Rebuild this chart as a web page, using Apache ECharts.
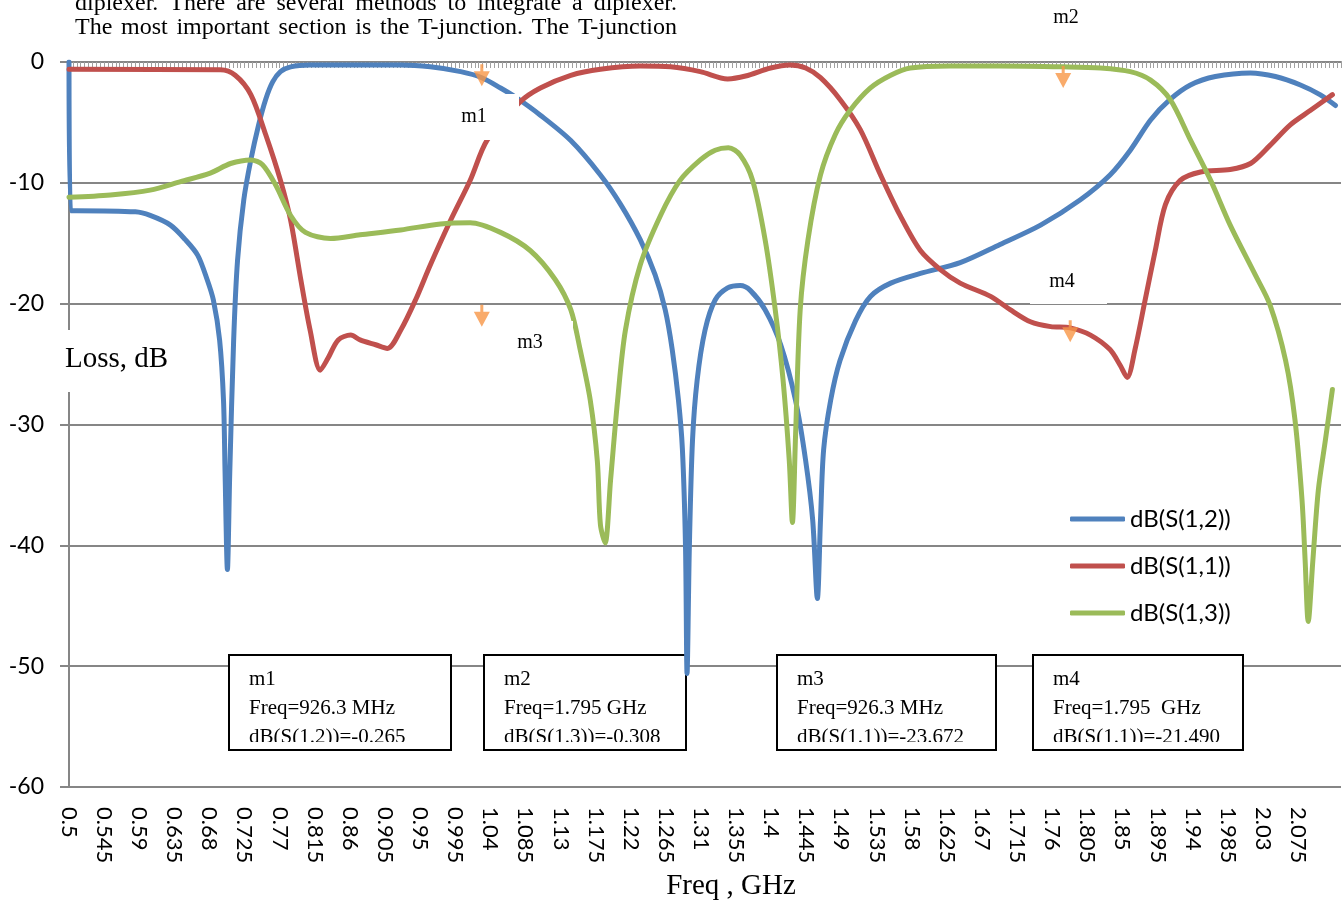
<!DOCTYPE html>
<html>
<head>
<meta charset="utf-8">
<script src="https://cdn.jsdelivr.net/npm/echarts@6/dist/echarts.min.js"></script>
<style>
html,body{margin:0;padding:0;background:#fff;}
#chart{width:1342px;height:902px;}
</style>
</head>
<body>
<div id="chart"></div>
<script>
// ---- data (frequency in GHz, loss in dB) ----
const seriesNames = ['dB(S(1,2))', 'dB(S(1,1))', 'dB(S(1,3))'];

const freqS12 = [0.5, 0.502, 0.51, 0.585, 0.604, 0.630, 0.649, 0.665, 0.677, 0.685, 0.693, 0.698, 0.700, 0.703, 0.706, 0.711, 0.716, 0.724, 0.733, 0.743, 0.752, 0.761, 0.771, 0.784, 0.809, 0.861, 0.925, 0.963, 1.002, 1.029, 1.053, 1.072, 1.104, 1.143, 1.181, 1.207, 1.232, 1.251, 1.264, 1.273, 1.281, 1.286, 1.290, 1.292, 1.295, 1.299, 1.305, 1.315, 1.328, 1.344, 1.360, 1.373, 1.392, 1.412, 1.431, 1.444, 1.453, 1.459, 1.463, 1.467, 1.476, 1.488, 1.508, 1.527, 1.553, 1.591, 1.642, 1.693, 1.745, 1.796, 1.834, 1.860, 1.886, 1.911, 1.937, 1.969, 2.014, 2.046, 2.078, 2.103, 2.123];
const dbS12 = [0, -12.3, -12.3, -12.4, -12.7, -13.5, -14.7, -16, -18, -19.7, -23, -28, -34, -42, -34, -23, -16.4, -11.4, -8.1, -5.2, -3.1, -1.65, -0.8, -0.4, -0.25, -0.25, -0.25, -0.4, -0.8, -1.3, -2.15, -2.9, -4.4, -6.5, -9.35, -11.8, -14.7, -17.6, -20.5, -23.8, -28, -32, -40, -50.6, -40, -31.3, -26.3, -22.2, -19.7, -18.7, -18.5, -18.9, -20.5, -23.4, -28, -33, -37.9, -44.4, -37.9, -32.1, -28, -24.7, -21.4, -19.4, -18.3, -17.5, -16.6, -15.1, -13.5, -11.4, -9.35, -7.3, -4.8, -3.1, -1.9, -1.2, -0.9, -1.2, -1.9, -2.7, -3.6];

const freqS11 = [0.5, 0.694, 0.713, 0.733, 0.752, 0.771, 0.784, 0.797, 0.809, 0.822, 0.832, 0.845, 0.861, 0.873, 0.893, 0.908, 0.925, 0.944, 0.963, 0.989, 1.014, 1.036, 1.078, 1.104, 1.143, 1.181, 1.232, 1.271, 1.309, 1.344, 1.367, 1.399, 1.424, 1.444, 1.463, 1.488, 1.514, 1.540, 1.565, 1.591, 1.617, 1.642, 1.681, 1.706, 1.732, 1.758, 1.783, 1.809, 1.834, 1.847, 1.856, 1.866, 1.879, 1.892, 1.905, 1.924, 1.950, 1.988, 2.014, 2.039, 2.065, 2.091, 2.119];
const dbS11 = [-0.6, -0.65, -1.1, -2.7, -6, -9.8, -13.1, -18, -22.2, -25.5, -24.5, -23, -22.6, -23, -23.4, -23.7, -22.2, -19.7, -16.8, -13.1, -9.8, -6.45, -3.3, -2.15, -1.1, -0.6, -0.33, -0.4, -0.8, -1.4, -1.16, -0.5, -0.25, -0.5, -1.3, -3.1, -5.6, -9.35, -12.7, -15.6, -17.2, -18.3, -19.4, -20.5, -21.5, -21.9, -22, -22.6, -23.8, -25.1, -26.1, -23.8, -19.7, -15.6, -11.8, -9.8, -9.1, -8.9, -8.4, -6.9, -5.2, -4, -2.7];

const freqS13 = [0.5, 0.553, 0.604, 0.643, 0.681, 0.707, 0.733, 0.748, 0.765, 0.784, 0.803, 0.835, 0.873, 0.925, 0.976, 1.014, 1.053, 1.091, 1.123, 1.143, 1.155, 1.168, 1.177, 1.181, 1.187, 1.194, 1.203, 1.213, 1.232, 1.258, 1.283, 1.309, 1.328, 1.345, 1.360, 1.376, 1.392, 1.405, 1.415, 1.423, 1.427, 1.431, 1.437, 1.447, 1.463, 1.482, 1.501, 1.527, 1.553, 1.578, 1.629, 1.693, 1.774, 1.822, 1.860, 1.886, 1.911, 1.937, 1.963, 1.988, 2.020, 2.039, 2.059, 2.071, 2.080, 2.084, 2.088, 2.094, 2.101, 2.110, 2.119];
const dbS13 = [-11.2, -11, -10.6, -9.9, -9.2, -8.4, -8.1, -8.5, -10.2, -12.7, -14.1, -14.6, -14.3, -13.9, -13.4, -13.3, -14.1, -15.6, -18, -20.5, -23.8, -28, -33, -38.3, -39.8, -34.6, -28, -22.2, -16.8, -12.7, -9.8, -8.1, -7.3, -7.1, -7.7, -9.8, -14.7, -20.5, -26.3, -33, -38.1, -31, -20.5, -14.7, -9.35, -6, -4, -2.15, -1.1, -0.5, -0.33, -0.33, -0.4, -0.5, -0.8, -1.5, -3.1, -6.45, -9.8, -13.5, -17.6, -20.1, -24.7, -29.6, -36.2, -41.2, -46.3, -41.2, -35.4, -31.3, -27.1];

// marker arrows (tip positions)
const markerFreq = [1.029, 1.774, 1.029, 1.783];
const markerDb = [-2.0, -2.15, -21.9, -23.2];

// axis settings
const freqStart = 0.5;
const freqEnd = 2.13;
const freqLabelStep = 0.045;
const freqLastLabel = 2.075;
const dbMin = -60, dbMax = 0, dbStep = 10;

// marker read-out boxes
const markerBoxes = [
  ['m1', 'Freq=926.3 MHz', 'dB(S(1.2))=-0.265'],
  ['m2', 'Freq=1.795 GHz', 'dB(S(1.3))=-0.308'],
  ['m3', 'Freq=926.3 MHz', 'dB(S(1.1))=-23.672'],
  ['m4', 'Freq=1.795  GHz', 'dB(S(1.1))=-21.490']
];

const docLines = [
  'diplexer. There are several methods to integrate a diplexer.',
  'The most important section is the T-junction. The T-junction'
];

// ---- chart ----
const colors = ['#4F81BD', '#C0504D', '#9BBB59'];
const toPairs = (fs, ds) => fs.map((f, i) => [+(f - freqStart).toFixed(4), ds[i]]);
const seriesData = [toPairs(freqS12, dbS12), toPairs(freqS11, dbS11), toPairs(freqS13, dbS13)];

const serif = '"Liberation Serif", "Times New Roman", serif';
const sans = 'Lato, "Open Sans", sans-serif';

const boxGeom = [[229, 222], [484, 202], [777, 219], [1033, 210]];
const graphics = [];
markerBoxes.forEach((lines, i) => {
  const [x, w] = boxGeom[i];
  const y = 655, h = 95;
  graphics.push({type: 'rect', z: 1, shape: {x: x, y: y, width: w, height: h}, style: {fill: '#fff', stroke: null}});
  lines.forEach((t, k) => {
    graphics.push({type: 'text', z: 1, style: {x: x + 20, y: 679 + k * 29, text: t, font: '21px ' + serif, fill: '#000', align: 'left', verticalAlign: 'middle'}});
  });
  graphics.push({type: 'rect', z: 1, shape: {x: x + 2, y: 742, width: w - 4, height: 8}, style: {fill: '#fff'}});
  graphics.push({type: 'rect', z: 1, shape: {x: x, y: y, width: w, height: h}, style: {fill: 'none', stroke: '#000', lineWidth: 2}});
});

// marker name labels with white backing
const nameLabels = [
  {t: 'm1', bx: 445, by: 94, bw: 74, bh: 46, tx: 474, ty: 117},
  {t: 'm3', bx: 490, by: 321, bw: 83, bh: 44, tx: 530, ty: 343},
  {t: 'm4', bx: 1030, by: 262, bw: 77, bh: 42, tx: 1062, ty: 282},
  {t: 'm2', bx: 1040, by: 2, bw: 54, bh: 32, tx: 1066, ty: 18}
];
nameLabels.forEach(l => {
  graphics.push({type: 'rect', z: 10, shape: {x: l.bx, y: l.by, width: l.bw, height: l.bh}, style: {fill: '#fff'}});
  graphics.push({type: 'text', z: 11, style: {x: l.tx, y: l.ty, text: l.t, font: '20px ' + serif, fill: '#000', align: 'center', verticalAlign: 'middle'}});
});

// axis titles
graphics.push({type: 'rect', z: 10, shape: {x: 60, y: 330, width: 112, height: 62}, style: {fill: '#fff'}});
graphics.push({type: 'text', z: 11, style: {x: 65, y: 359, text: 'Loss, dB', font: '29px ' + serif, fill: '#000', align: 'left', verticalAlign: 'middle'}});
graphics.push({type: 'text', z: 11, style: {x: 731, y: 886, text: 'Freq , GHz', font: '29px ' + serif, fill: '#000', align: 'center', verticalAlign: 'middle'}});

// surrounding document text, justified between two margins
(function () {
  const font = '24px ' + serif;
  const left = 75, right = 677;
  const ctx = document.createElement('canvas').getContext('2d');
  ctx.font = font;
  const ys = [4, 28];
  docLines.forEach((line, li) => {
    const words = line.split(' ');
    const widths = words.map(w => ctx.measureText(w).width);
    const total = widths.reduce((a, b) => a + b, 0);
    const gap = (right - left - total) / (words.length - 1);
    let x = left;
    words.forEach((w, wi) => {
      graphics.push({type: 'text', z: 11, style: {x: x, y: ys[li], text: w, font: font, fill: '#000', align: 'left', verticalAlign: 'middle'}});
      x += widths[wi] + gap;
    });
  });
})();

const arrowPath = 'path://M6.5,0 L9.5,0 L9.5,7 L16,7 L8,22 L0,7 L6.5,7 Z';
const labelLimit = +(freqLastLabel - freqStart).toFixed(3);

const chart = echarts.init(document.getElementById('chart'), null, {renderer: 'canvas'});
chart.setOption({
  animation: false,
  backgroundColor: '#fff',
  color: colors,
  grid: {left: 69, top: 62, width: 1272, height: 725, containLabel: false},
  legend: {
    orient: 'vertical', left: 1065, top: 500,
    data: seriesNames,
    icon: 'roundRect', itemWidth: 55, itemHeight: 5, itemGap: 19,
    textStyle: {fontFamily: sans, fontSize: 24, lineHeight: 28, color: '#000'}
  },
  xAxis: [
    {
      type: 'value', position: 'bottom', min: 0, max: +(freqEnd - freqStart).toFixed(3), interval: freqLabelStep,
      axisLine: {show: false, onZero: false}, axisTick: {show: false}, splitLine: {show: false},
      axisLabel: {
        rotate: -90, margin: 20, fontFamily: sans, fontSize: 22, color: '#000',
        showMaxLabel: false,
        formatter: v => (v > labelLimit + 1e-6 ? '' : String(Math.round((v + freqStart) * 1000) / 1000))
      }
    },
    {
      type: 'value', position: 'top', min: 0, max: +(freqEnd - freqStart).toFixed(3), interval: freqLabelStep,
      axisLine: {show: true, onZero: false, lineStyle: {color: '#868686', width: 2}},
      axisTick: {show: true, inside: true, length: 6, lineStyle: {color: '#a0a0a0', width: 1}},
      minorTick: {show: true, splitNumber: 9, length: 6, lineStyle: {color: '#a0a0a0', width: 1}},
      axisLabel: {show: false}, splitLine: {show: false}
    }
  ],
  yAxis: {
    type: 'value', min: dbMin, max: dbMax, interval: dbStep,
    axisLine: {show: true, onZero: false, lineStyle: {color: '#868686', width: 2}},
    axisTick: {show: true, length: 9, lineStyle: {color: '#868686', width: 2}},
    axisLabel: {margin: 25, fontFamily: sans, fontSize: 23, color: '#000'},
    splitLine: {show: true, lineStyle: {color: '#868686', width: 2}}
  },
  series: seriesNames.map((name, i) => ({
    name: name, type: 'line', xAxisIndex: 0, data: seriesData[i],
    showSymbol: false, symbol: 'none', smooth: 0.3,
    lineStyle: {width: 5, color: colors[i], cap: 'round', join: 'round'},
    itemStyle: {color: colors[i]}, z: 2
  })).concat([{
    name: 'markers', type: 'scatter', xAxisIndex: 0,
    data: markerFreq.map((f, i) => [+(f - freqStart).toFixed(4), markerDb[i]]),
    symbol: arrowPath, symbolSize: [16, 22], symbolOffset: [0, -11], symbolKeepAspect: false,
    itemStyle: {color: '#F79646'}, z: 5, silent: true
  }]),
  graphic: {elements: graphics}
});
</script>
</body>
</html>
